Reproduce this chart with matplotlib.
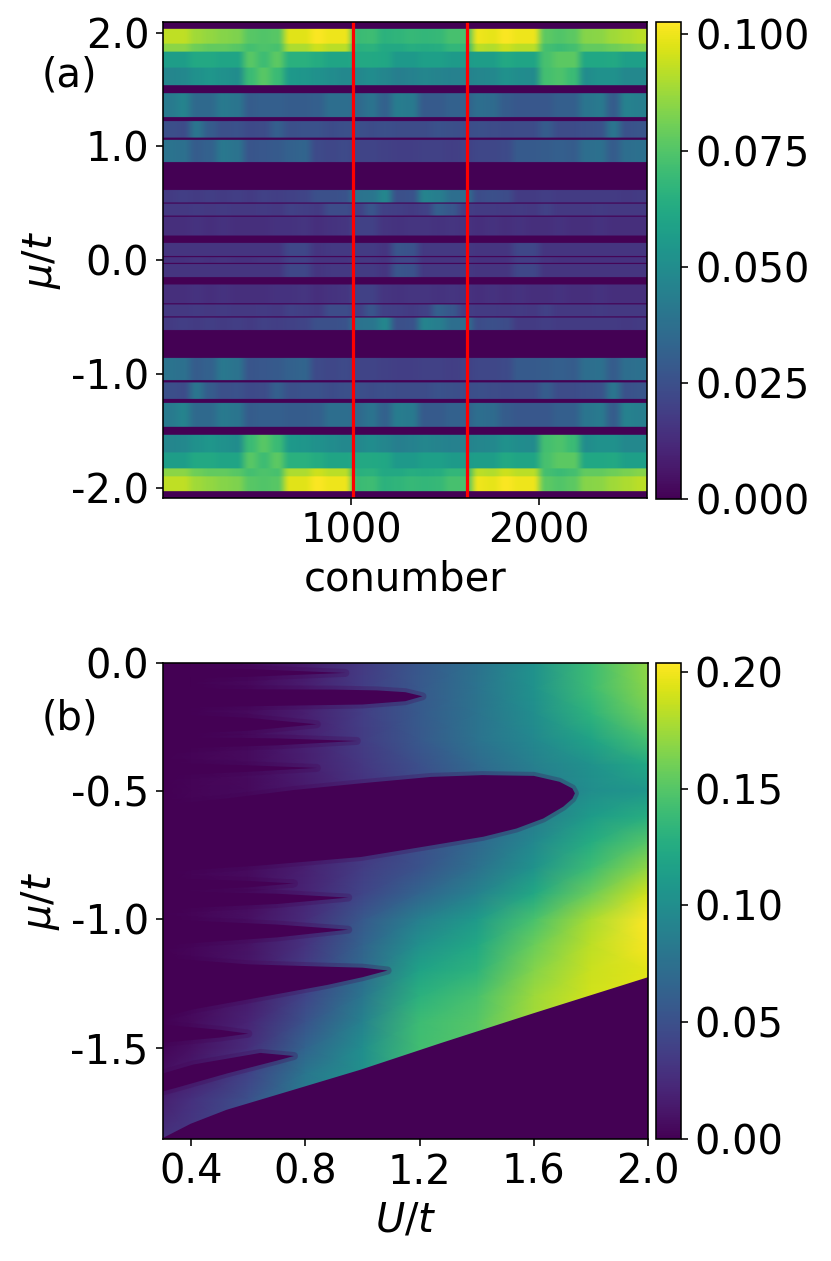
import numpy as np
import matplotlib
matplotlib.use("Agg")
import matplotlib.pyplot as plt
from matplotlib.ticker import FormatStrFormatter

plt.rcParams["font.size"] = 20
plt.rcParams["axes.unicode_minus"] = False

# ---------------- panel (a) data ----------------
conumber_max = 2576
n_cols = 36
red_lines = [1008, 1616]
mu_max_a = 2.09

# column values (x 0.001) read band by band, upper half (map is symmetric in mu)
Y1 = [93, 93, 88, 86, 84, 83, 76, 75, 76, 98, 98, 102, 100, 100, 70, 71, 66, 67,
      69, 68, 69, 73, 73, 100, 99, 102, 100, 100, 77, 75, 77, 84, 85, 88, 90, 92]
Y2 = [85, 85, 80, 78, 78, 76, 72, 74, 73, 90, 90, 95, 92, 92, 65, 66, 62, 62,
      64, 63, 64, 68, 68, 92, 91, 95, 92, 92, 72, 70, 72, 78, 78, 80, 82, 84]
T1 = [57, 57, 62, 62, 60, 60, 76, 71, 77, 65, 65, 63, 60, 60, 62, 62, 61, 55,
      55, 58, 58, 56, 56, 57, 57, 62, 60, 60, 73, 77, 77, 61, 61, 62, 58, 58]
T2 = [47, 48, 52, 54, 52, 50, 70, 76, 70, 55, 54, 52, 50, 48, 48, 50, 47, 44,
      45, 47, 46, 45, 45, 47, 48, 52, 50, 49, 72, 74, 70, 50, 52, 52, 48, 48]
B1 = [42, 46, 35, 35, 42, 40, 30, 31, 31, 30, 30, 31, 37, 37, 35, 39, 32, 43,
      42, 29, 29, 32, 32, 37, 36, 30, 28, 28, 28, 31, 31, 40, 42, 30, 45, 44]
B2 = [25, 24, 40, 30, 25, 26, 23, 24, 31, 25, 26, 26, 24, 25, 25, 24, 25, 24,
      24, 24, 26, 25, 24, 25, 24, 23, 24, 24, 30, 24, 24, 25, 26, 40, 26, 27]
B3 = [39, 38, 30, 32, 41, 39, 27, 28, 29, 32, 33, 23, 22, 23, 21, 21, 20, 19,
      19, 20, 20, 19, 20, 22, 22, 23, 29, 29, 30, 31, 30, 37, 38, 30, 37, 38]
B4 = [18, 19, 18, 19, 18, 19, 18, 20, 19, 20, 21, 25, 25, 26, 39, 40, 47, 25,
      26, 46, 44, 37, 37, 24, 25, 24, 18, 18, 19, 18, 18, 18, 18, 18, 17, 18]
B5 = [17, 17, 18, 17, 18, 17, 17, 18, 17, 20, 19, 18, 24, 24, 20, 27, 20, 19,
      18, 20, 31, 28, 19, 18, 18, 17, 18, 17, 20, 17, 17, 17, 18, 17, 17, 17]
B6 = [14, 14, 15, 14, 15, 14, 14, 14, 15, 15, 16, 14, 15, 16, 20, 20, 16, 15,
      16, 16, 15, 16, 15, 14, 15, 14, 15, 14, 14, 15, 14, 14, 15, 14, 14, 14]
B7 = [16, 16, 16, 16, 16, 16, 16, 16, 16, 22, 22, 16, 17, 17, 18, 18, 16, 27,
      26, 17, 17, 17, 17, 16, 16, 16, 22, 22, 16, 16, 16, 16, 16, 16, 16, 16]
B8 = [15, 15, 16, 15, 16, 15, 15, 16, 16, 20, 20, 16, 16, 16, 17, 17, 16, 22,
      22, 16, 16, 16, 16, 15, 15, 15, 19, 19, 16, 15, 15, 15, 15, 15, 15, 15]

# |mu| range of each band (top, bottom)
bands = [(2.03, 1.90, Y1), (1.90, 1.83, Y2), (1.83, 1.69, T1), (1.69, 1.535, T2),
         (1.465, 1.253, B1), (1.218, 1.077, B2), (1.057, 0.858, B3),
         (0.614, 0.505, B4), (0.497, 0.388, B5), (0.378, 0.215, B6),
         (0.15, 0.033, B7), (0.025, -0.001, B8)]

mu_rows = np.arange(mu_max_a - 0.0025, -mu_max_a, -0.005)
img_a = np.zeros((len(mu_rows), n_cols))
for top, bot, vals in bands:
    sel = (np.abs(mu_rows) <= top) & (np.abs(mu_rows) > bot)
    img_a[sel, :] = np.array(vals) / 1000.0

# ---------------- panel (b) data ----------------
U_grid = [0.3, 0.4, 0.6, 0.8, 1.0, 1.2, 1.4, 1.6, 1.8, 2.0]
mu_grid = [0.0, -0.1, -0.2, -0.3, -0.4, -0.5, -0.6, -0.7, -0.8, -0.9, -1.0,
           -1.1, -1.2, -1.3, -1.4, -1.5, -1.6, -1.7, -1.86]
# gap values (x 0.001) outside the zero lobes
gap_rows = [
    [0, 0, 4, 15, 35, 55, 77, 104, 140, 170],
    [0, 0, 4, 16, 36, 56, 78, 104, 140, 168],
    [0, 1, 5, 17, 37, 57, 78, 100, 132, 160],
    [0, 1, 6, 18, 36, 56, 78, 95, 118, 144],
    [0, 2, 6, 17, 33, 50, 70, 88, 104, 122],
    [0, 2, 5, 14, 28, 45, 62, 80, 100, 108],
    [0, 2, 5, 14, 28, 45, 62, 84, 112, 128],
    [0, 2, 5, 15, 30, 48, 68, 95, 126, 150],
    [0, 2, 6, 18, 36, 52, 75, 105, 140, 170],
    [0, 2, 6, 20, 42, 66, 90, 122, 158, 190],
    [0, 2, 8, 25, 56, 88, 110, 145, 178, 204],
    [0, 3, 10, 30, 64, 102, 122, 157, 184, 202],
    [0, 3, 12, 36, 70, 118, 132, 166, 188, 195],
    [0, 4, 14, 42, 80, 130, 145, 174, 190, 195],
    [1, 5, 20, 52, 90, 140, 150, 176, 190, 195],
    [3, 8, 26, 65, 100, 142, 150, 176, 190, 195],
    [8, 15, 40, 80, 102, 142, 150, 176, 190, 195],
    [18, 28, 50, 85, 102, 142, 150, 176, 190, 195],
    [30, 35, 50, 85, 102, 142, 150, 176, 190, 195],
]

# zero-gap lobes: upper edge (left -> tip) and lower edge (tip -> left), as (U, mu)
lobes = {
    "top_streak": ([(0.3, -0.02), (0.6, -0.025), (0.94, -0.04)],
                   [(0.6, -0.055), (0.3, -0.06)]),
    "thin": ([(0.3, -0.100), (0.6, -0.104), (0.9, -0.105), (1.05, -0.108), (1.15, -0.115), (1.21, -0.131)],
             [(1.15, -0.150), (1.0, -0.163), (0.7, -0.168), (0.3, -0.175)]),
    "s1": ([(0.3, -0.20), (0.6, -0.215), (0.84, -0.24)],
           [(0.6, -0.265), (0.3, -0.28)]),
    "s2": ([(0.3, -0.29), (0.7, -0.295), (0.98, -0.305)],
           [(0.7, -0.322), (0.3, -0.335)]),
    "s3": ([(0.3, -0.39), (0.6, -0.40), (0.84, -0.41)],
           [(0.6, -0.425), (0.3, -0.44)]),
    "big": ([(0.3, -0.555), (0.525, -0.529), (0.76, -0.496), (0.994, -0.470), (1.24, -0.445),
             (1.42, -0.438), (1.60, -0.441), (1.69, -0.464), (1.735, -0.49), (1.744, -0.509)],
            [(1.735, -0.53), (1.703, -0.561), (1.633, -0.607), (1.539, -0.646), (1.423, -0.678),
             (1.24, -0.712), (0.994, -0.757), (0.642, -0.79), (0.3, -0.815)]),
    "s4": ([(0.3, -0.84), (0.6, -0.85), (0.76, -0.86)],
           [(0.6, -0.875), (0.3, -0.89)]),
    "s5": ([(0.3, -0.89), (0.7, -0.9), (0.95, -0.915)],
           [(0.7, -0.94), (0.3, -0.96)]),
    "s6": ([(0.3, -1.0), (0.7, -1.02), (0.95, -1.04)],
           [(0.7, -1.07), (0.3, -1.1)]),
    "lobe_c": ([(0.3, -1.15), (0.6, -1.175), (0.9, -1.185), (1.0, -1.188), (1.088, -1.199)],
               [(1.0, -1.225), (0.877, -1.255), (0.642, -1.303), (0.408, -1.35), (0.3, -1.38)]),
    "s7": ([(0.3, -1.41), (0.5, -1.43), (0.6, -1.445)],
           [(0.5, -1.46), (0.3, -1.48)]),
    "lobe_d": ([(0.3, -1.6), (0.408, -1.565), (0.642, -1.52), (0.76, -1.532)],
               [(0.7, -1.55), (0.525, -1.6), (0.35, -1.655), (0.3, -1.67)]),
}
band_edge = [(0.3, -1.857), (0.4, -1.80), (0.525, -1.746), (0.76, -1.668), (0.994, -1.59),
             (1.276, -1.486), (1.6, -1.37), (2.0, -1.23)]

# ---------------- figure ----------------
fig = plt.figure(figsize=(831 / 144, 1261 / 144), dpi=144)
zero_col = plt.get_cmap("viridis")(0.0)

ax1 = fig.add_axes([0.1965, 0.6051, 0.5824, 0.3772])
im1 = ax1.imshow(img_a, extent=[0, conumber_max, -mu_max_a, mu_max_a], aspect="auto",
                 cmap="viridis", vmin=0, vmax=0.1027, interpolation="antialiased")
for xl in red_lines:
    ax1.axvline(xl, color="red", lw=1.6)
ax1.set_xticks([1000, 2000])
ax1.set_yticks([2, 1, 0, -1, -2])
ax1.yaxis.set_major_formatter(FormatStrFormatter("%.1f"))
ax1.set_xlabel("conumber")
ax1.set_ylabel(r"$\mu/t$")
cax1 = fig.add_axes([0.7894, 0.604, 0.0301, 0.3787])
cb1 = fig.colorbar(im1, cax=cax1, ticks=[0, 0.025, 0.05, 0.075, 0.1])
cb1.ax.yaxis.set_major_formatter(FormatStrFormatter("%.3f"))

ax2 = fig.add_axes([0.1958, 0.0968, 0.584, 0.3777])
pm = ax2.pcolormesh(U_grid, mu_grid, np.array(gap_rows) / 1000.0, shading="gouraud",
                    cmap="viridis", vmin=0, vmax=0.204)
for upper, lower in lobes.values():
    pts = upper + lower
    xs = [p[0] for p in pts]
    ys = [p[1] for p in pts]
    # soft rim, then the zero region itself
    ax2.fill(xs, ys, facecolor="none", edgecolor=zero_col, lw=4, alpha=0.25, joinstyle="round")
    ax2.fill(xs, ys, color=zero_col, lw=0)
edge_pts = band_edge + [(2.0, -1.9), (0.3, -1.9)]
ax2.fill([p[0] for p in edge_pts], [p[1] for p in edge_pts], facecolor=zero_col,
         edgecolor=zero_col, lw=1.2, alpha=1.0)
ax2.set_xlim(0.3, 2.0)
ax2.set_ylim(-1.855, 0)
ax2.set_xticks([0.4, 0.8, 1.2, 1.6, 2.0])
ax2.set_yticks([0, -0.5, -1.0, -1.5])
ax2.xaxis.set_major_formatter(FormatStrFormatter("%.1f"))
ax2.yaxis.set_major_formatter(FormatStrFormatter("%.1f"))
ax2.set_xlabel(r"$U/t$")
ax2.set_ylabel(r"$\mu/t$")
cax2 = fig.add_axes([0.7894, 0.0968, 0.0297, 0.3777])
cb2 = fig.colorbar(pm, cax=cax2, ticks=[0, 0.05, 0.1, 0.15, 0.2])
cb2.ax.yaxis.set_major_formatter(FormatStrFormatter("%.2f"))

fig.text(0.05, 0.9405, "(a)", va="center", ha="left")
fig.text(0.05, 0.4306, "(b)", va="center", ha="left")

fig.savefig("out.png", dpi=144)
